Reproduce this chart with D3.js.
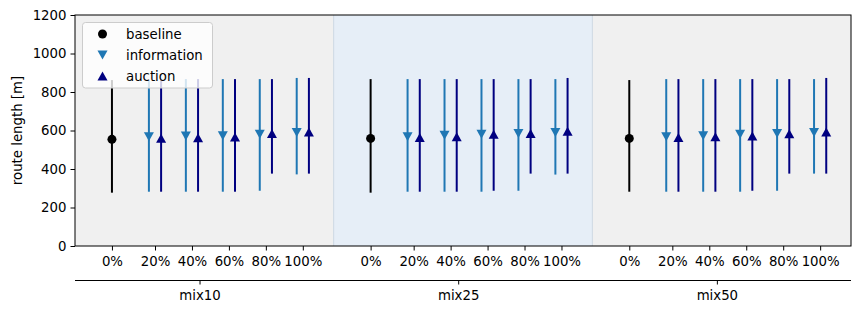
<!DOCTYPE html>
<html>
<head>
<meta charset="utf-8">
<script src="https://cdn.jsdelivr.net/npm/d3@7"></script>
<style>
  body { margin: 0; background: #fff; }
  text { font-family: "DejaVu Sans", sans-serif; }
</style>
</head>
<body>
<div id="chart"></div>
<script>
// data
var groups = ["mix10", "mix25", "mix50"];
var levels = ["0%", "20%", "40%", "60%", "80%", "100%"];
var yTicks = [0, 200, 400, 600, 800, 1000, 1200];

var baselineMean = [554, 559, 559];
var baselineLow = [277, 277, 282];
var baselineHigh = [862, 867, 862];

var infoMean = [[568, 571, 573, 580, 590], [568, 575, 580, 585, 589], [568, 573, 580, 585, 590]];
var infoLow = [[282, 282, 282, 287, 372], [282, 282, 282, 287, 371], [282, 282, 282, 287, 376]];
var infoHigh = [[862, 867, 867, 867, 873], [867, 867, 867, 867, 867], [867, 867, 867, 867, 867]];

var auctionMean = [[560, 562, 566, 584, 592], [564, 568, 581, 585, 596], [564, 568, 571, 583, 592]];
var auctionLow = [[282, 282, 282, 376, 376], [282, 282, 287, 376, 376], [282, 282, 287, 376, 376]];
var auctionHigh = [[862, 867, 867, 867, 873], [867, 867, 867, 867, 873], [867, 867, 867, 867, 873]];

var colors = {baseline: '#000000', information: '#1f77b4', auction: '#000080'};
var bandColors = ['#f0f0f0', '#e6eef7', '#f0f0f0'];

var width = 859;
var height = 314;
// plot area (note: "top" is taken by window.top, so use other names)
var plotL = 75, plotR = 851, plotT = 15, plotB = 246;

var groupWidth = 7;
var groupCenter = 3.37;
var pairOffset = 0.33;

var x = d3.scaleLinear().domain([0, groups.length * groupWidth]).range([plotL, plotR]);
var y = d3.scaleLinear().domain([0, 1200]).range([plotB, plotT]);

var svg = d3.select('#chart')
  .append('svg')
    .attr('width', width)
    .attr('height', height);

// group background bands
svg.append('g').selectAll('rect')
    .data(groups)
  .enter()
    .append('rect')
    .attr('x', function(d, i) { return x(i * groupWidth); })
    .attr('y', plotT)
    .attr('width', function(d, i) { return x((i + 1) * groupWidth) - x(i * groupWidth); })
    .attr('height', plotB - plotT)
    .attr('fill', function(d, i) { return bandColors[i]; });

// thin edges of the middle band
[1, 2].forEach(function(k) {
    svg.append('line')
        .attr('x1', x(k * groupWidth)).attr('x2', x(k * groupWidth))
        .attr('y1', plotT).attr('y2', plotB)
        .attr('stroke', '#cdd8e3').attr('stroke-width', 1);
});

// build the point list
var points = [];
groups.forEach(function(g, gi) {
    var base = gi * groupWidth;
    points.push({series: 'baseline', x: base + 1, mean: baselineMean[gi], low: baselineLow[gi], high: baselineHigh[gi]});
    for(var k = 0; k < 5; k++) {
        points.push({series: 'information', x: base + k + 2,
            mean: infoMean[gi][k], low: infoLow[gi][k], high: infoHigh[gi][k]});
        points.push({series: 'auction', x: base + k + 2 + pairOffset,
            mean: auctionMean[gi][k], low: auctionLow[gi][k], high: auctionHigh[gi][k]});
    }
});

var marks = svg.append('g');

marks.selectAll('line.err')
    .data(points)
  .enter()
    .append('line')
    .attr('class', 'err')
    .attr('x1', function(d) { return x(d.x); })
    .attr('x2', function(d) { return x(d.x); })
    .attr('y1', function(d) { return y(d.low); })
    .attr('y2', function(d) { return y(d.high); })
    .attr('stroke', function(d) { return colors[d.series]; })
    .attr('stroke-width', 2);

function markerPath(series) {
    if(series == 'information') return 'M-5,-4.5L5,-4.5L0,4.5Z';
    if(series == 'auction') return 'M-5,4.5L5,4.5L0,-4.5Z';
    return null;
}

marks.selectAll('circle.pt')
    .data(points.filter(function(d) { return d.series == 'baseline'; }))
  .enter()
    .append('circle')
    .attr('class', 'pt')
    .attr('cx', function(d) { return x(d.x); })
    .attr('cy', function(d) { return y(d.mean); })
    .attr('r', 4.5)
    .attr('fill', colors.baseline);

marks.selectAll('path.pt')
    .data(points.filter(function(d) { return d.series != 'baseline'; }))
  .enter()
    .append('path')
    .attr('class', 'pt')
    .attr('d', function(d) { return markerPath(d.series); })
    .attr('transform', function(d) { return 'translate(' + x(d.x) + ',' + y(d.mean) + ')'; })
    .attr('fill', function(d) { return colors[d.series]; });

// y axis
var yAxis = svg.append('g')
    .attr('transform', 'translate(' + plotL + ',0)')
    .call(d3.axisLeft(y).tickValues(yTicks).tickFormat(d3.format('d')).tickSize(4.5).tickPadding(4));
yAxis.select('.domain').remove();
yAxis.selectAll('text').attr('font-size', 13.3).attr('fill', '#000').attr('font-family', 'DejaVu Sans');
yAxis.selectAll('line').attr('stroke', '#000');

// x ticks at each level
var tickPos = [];
var tickLab = [];
groups.forEach(function(g, gi) {
    var base = gi * groupWidth;
    tickPos.push(base + 1);
    tickLab.push(levels[0]);
    for(var k = 1; k < levels.length; k++) {
        tickPos.push(base + k + 1 + pairOffset / 2);
        tickLab.push(levels[k]);
    }
});

var xAxis = svg.append('g')
    .attr('transform', 'translate(0,' + plotB + ')')
    .call(d3.axisBottom(x).tickValues(tickPos)
        .tickFormat(function(d, i) { return tickLab[i]; })
        .tickSize(4.5).tickPadding(6));
xAxis.select('.domain').remove();
xAxis.selectAll('text').attr('font-size', 13.3).attr('fill', '#000').attr('font-family', 'DejaVu Sans');
xAxis.selectAll('line').attr('stroke', '#000');

// frame
svg.append('rect')
    .attr('x', plotL).attr('y', plotT)
    .attr('width', plotR - plotL).attr('height', plotB - plotT)
    .attr('fill', 'none').attr('stroke', '#000').attr('stroke-width', 1);

// secondary axis for groups
var gScale = d3.scalePoint().domain(groups)
    .range([x(groupCenter), x((groups.length - 1) * groupWidth + groupCenter)]);
var gAxis = svg.append('g')
    .attr('transform', 'translate(0,280)')
    .call(d3.axisBottom(gScale).tickSize(4.5).tickPadding(6).tickSizeOuter(0));
gAxis.select('.domain').attr('d', 'M' + plotL + ',0.5H' + plotR).attr('stroke', '#000');
gAxis.selectAll('text').attr('font-size', 13.3).attr('fill', '#000').attr('font-family', 'DejaVu Sans');
gAxis.selectAll('line').attr('stroke', '#000');

// y label
svg.append('text')
    .text('route length [m]')
    .attr('transform', 'translate(22,' + ((plotT + plotB) / 2) + ') rotate(-90)')
    .attr('text-anchor', 'middle')
    .attr('font-size', 13.3);

// legend
var legend = svg.append('g');
legend.append('rect')
    .attr('x', 82.5).attr('y', 22.5)
    .attr('width', 130).attr('height', 65.5)
    .attr('rx', 3)
    .attr('fill', '#fff').attr('fill-opacity', 0.8)
    .attr('stroke', '#cccccc');

var legendItems = ['baseline', 'information', 'auction'];
legendItems.forEach(function(s, i) {
    var ly = 34 + i * 21;
    if(s == 'baseline') {
        legend.append('circle').attr('cx', 102.5).attr('cy', ly).attr('r', 4.5).attr('fill', colors[s]);
    }
    else {
        legend.append('path').attr('d', markerPath(s))
            .attr('transform', 'translate(102.5,' + ly + ')')
            .attr('fill', colors[s]);
    }
    legend.append('text')
        .text(s)
        .attr('x', 126)
        .attr('y', ly + 4.5)
        .attr('font-size', 13.3);
});
</script>
</body>
</html>
